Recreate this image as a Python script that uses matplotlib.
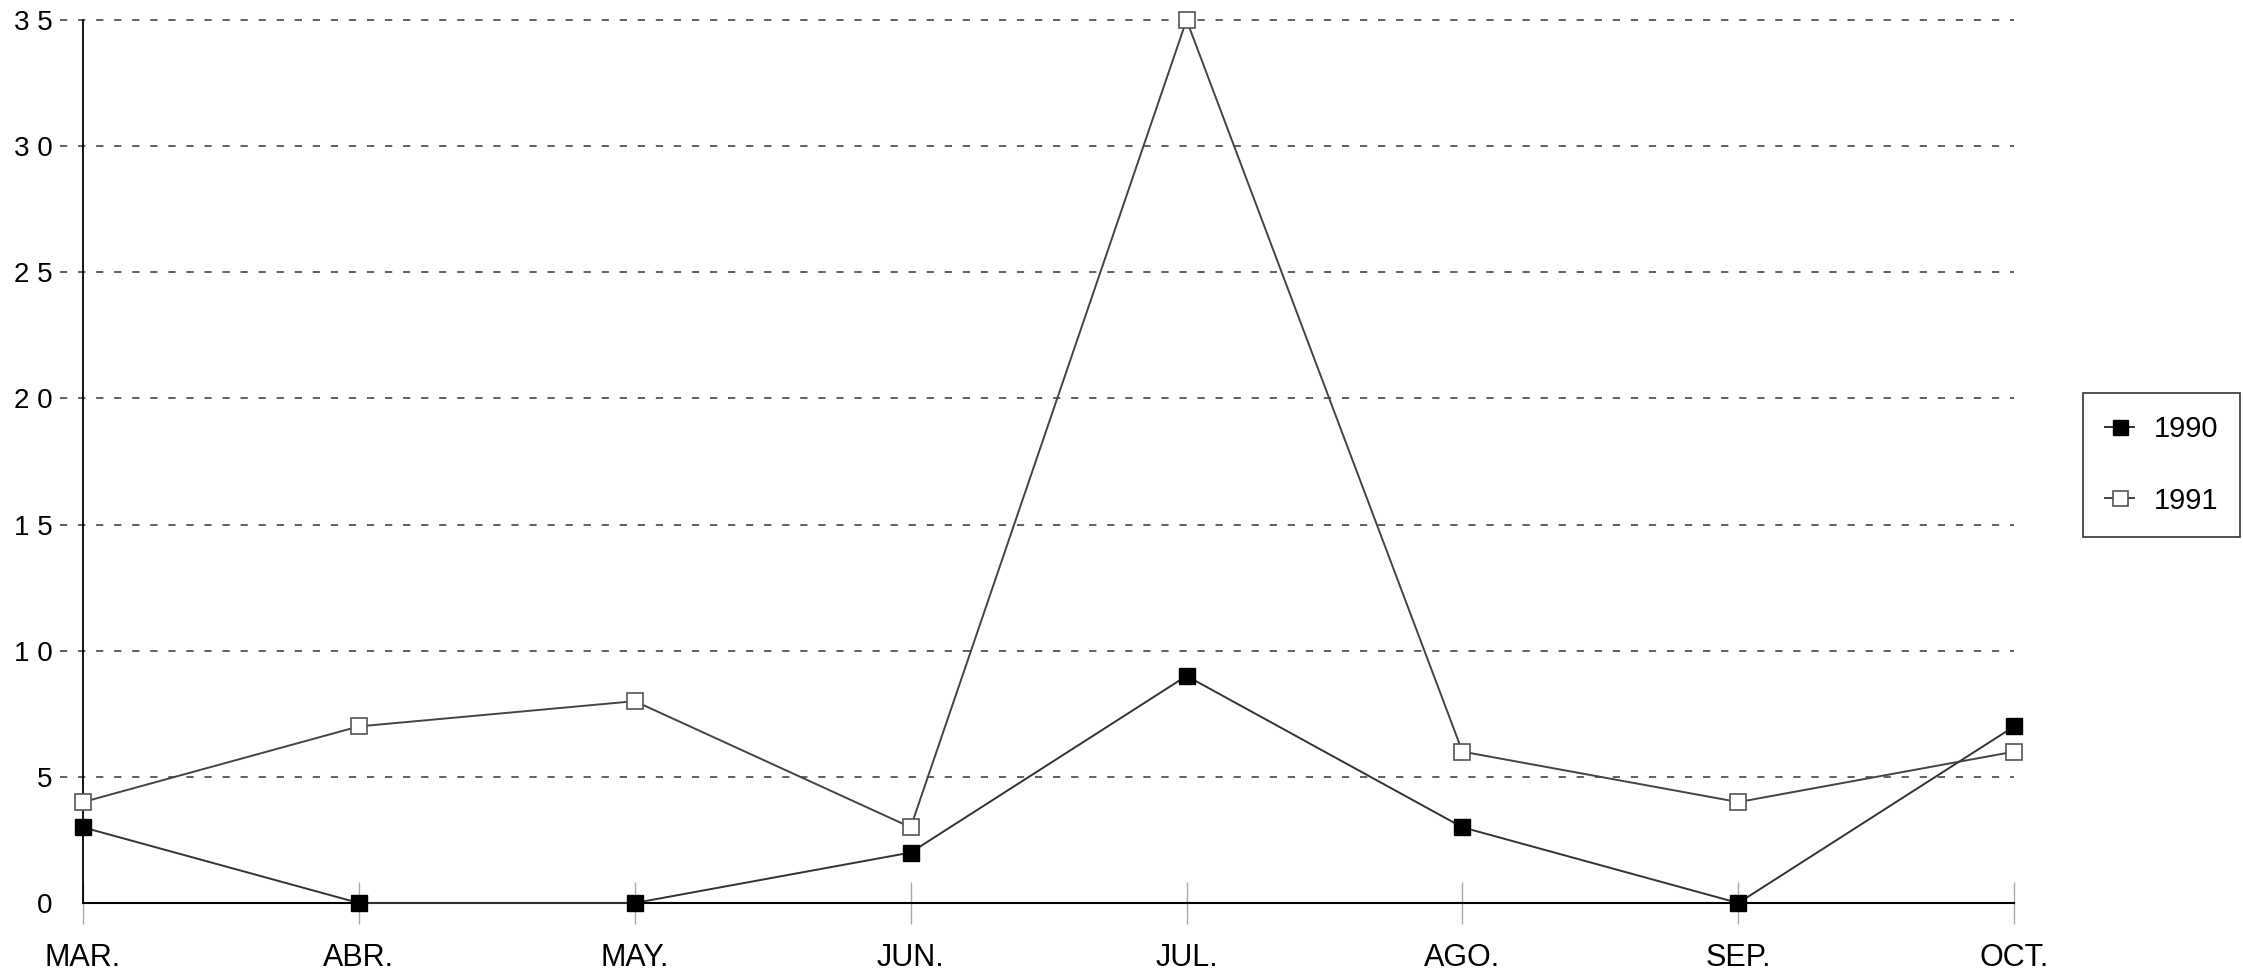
import matplotlib
matplotlib.use("Agg")
import matplotlib.pyplot as plt
from matplotlib import font_manager

months = ["MAR.", "ABR.", "MAY.", "JUN.", "JUL.", "AGO.", "SEP.", "OCT."]
s1990 = [3, 0, 0, 2, 9, 3, 0, 7]
s1991 = [4, 7, 8, 3, 35, 6, 4, 6]
yticks = [0, 5, 10, 15, 20, 25, 30, 35]
ytick_labels = ["0", "5", "1 0", "1 5", "2 0", "2 5", "3 0", "3 5"]

names = {f.name for f in font_manager.fontManager.ttflist}
narrow = "Liberation Sans Narrow" if "Liberation Sans Narrow" in names else "Liberation Sans"

plt.rcParams["font.family"] = ["Liberation Sans", "DejaVu Sans"]

fig = plt.figure(figsize=(22.43, 9.76), dpi=100)
ax = fig.add_axes([0.037, 0.0748, 0.861, 0.9047])

x = list(range(len(months)))
ax.plot(x, s1990, color="#333333", lw=1.4, marker="s", ms=12,
        mfc="black", mec="black", label="1990", zorder=3, clip_on=False)
ax.plot(x, s1991, color="#444444", lw=1.4, marker="s", ms=12,
        mfc="white", mec="#555555", mew=1.2, label="1991", zorder=3, clip_on=False)

ax.set_xlim(0, 7)
ax.set_ylim(0, 35)
for yv in yticks[1:]:
    ax.axhline(yv, color="#555555", lw=1.3, ls=(0, (4, 6)), xmin=-0.012, zorder=1, clip_on=False)

ax.set_yticks(yticks)
ax.set_yticklabels(ytick_labels, fontsize=20)
ax.tick_params(axis="y", length=0, pad=22)
ax.set_xticks(x)
ax.set_xticklabels(months, fontsize=22, family=[narrow, "DejaVu Sans"])
ax.tick_params(axis="x", direction="inout", length=30, width=1, color="#aaaaaa", pad=14)

for s in ["top", "right"]:
    ax.spines[s].set_visible(False)
ax.spines["left"].set_color("black")
ax.spines["bottom"].set_color("black")
ax.spines["left"].set_linewidth(1.3)
ax.spines["bottom"].set_linewidth(1.5)

leg = fig.legend(loc="upper right", bbox_to_anchor=(0.9985, 0.5973), fontsize=21,
                 frameon=True, fancybox=False, edgecolor="black", borderpad=0.75,
                 labelspacing=1.5, handlelength=1.0, handletextpad=0.65, markerscale=0.9,
                 borderaxespad=0)
leg.get_frame().set_linewidth(1.2)

fig.savefig("out.png", dpi=100, facecolor="white")
